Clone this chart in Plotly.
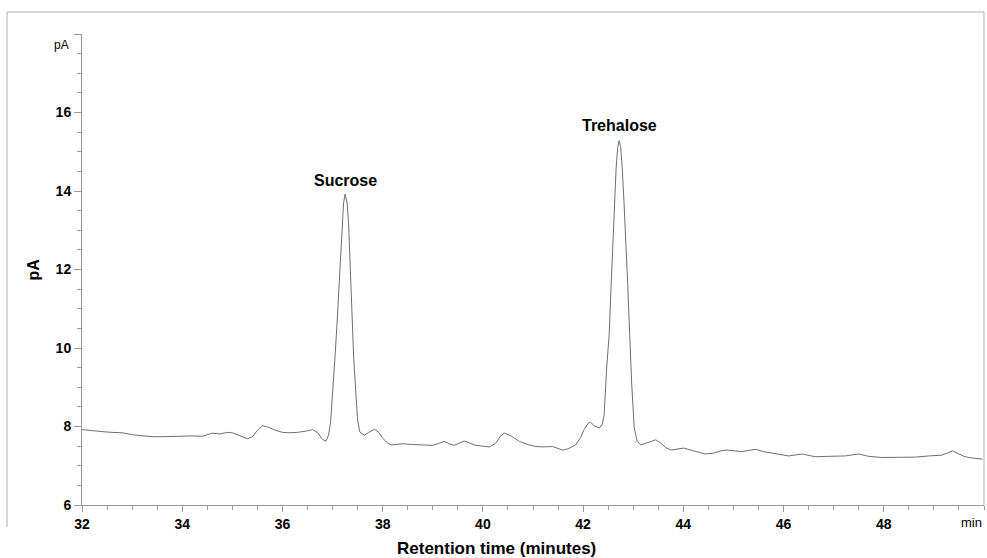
import plotly.graph_objects as go

# Chromatogram trace (retention time in minutes, signal in pA)
time_min = [
    32.00, 32.20, 32.40, 32.60, 32.80, 33.00, 33.20, 33.40, 33.60, 33.80,
    34.00, 34.20, 34.40, 34.50, 34.60, 34.75, 34.90, 35.00, 35.15, 35.30,
    35.40, 35.50, 35.60, 35.70, 35.85, 36.00, 36.15, 36.30, 36.50, 36.60,
    36.70, 36.80, 36.87, 36.92, 36.96, 37.01, 37.05, 37.09, 37.13, 37.17,
    37.20, 37.22, 37.25, 37.29, 37.32, 37.345, 37.365, 37.385, 37.42, 37.46,
    37.50, 37.54, 37.57, 37.64, 37.72, 37.84, 37.92, 38.00, 38.10, 38.17,
    38.30, 38.40, 38.60, 38.80, 39.00, 39.12, 39.23, 39.33, 39.43, 39.53,
    39.63, 39.73, 39.86, 40.00, 40.13, 40.25, 40.35, 40.43, 40.55, 40.73,
    40.90, 41.06, 41.20, 41.39, 41.50, 41.59, 41.70, 41.85, 41.95, 42.02,
    42.10, 42.15, 42.22, 42.32, 42.38, 42.42, 42.47, 42.52, 42.56, 42.60,
    42.635, 42.66, 42.69, 42.72, 42.75, 42.78, 42.815, 42.85, 42.89, 42.93,
    42.97, 43.02, 43.08, 43.15, 43.25, 43.38, 43.45, 43.55, 43.65, 43.75,
    43.90, 44.01, 44.20, 44.44, 44.60, 44.75, 44.87, 45.00, 45.17, 45.30,
    45.44, 45.60, 45.84, 46.10, 46.37, 46.63, 46.90, 47.23, 47.50, 47.70,
    47.96, 48.30, 48.63, 48.90, 49.16, 49.30, 49.37, 49.50, 49.62, 49.80,
    49.97,
]
signal_pA = [
    7.92, 7.89, 7.87, 7.85, 7.84, 7.79, 7.76, 7.74, 7.74, 7.75,
    7.76, 7.76, 7.75, 7.79, 7.83, 7.81, 7.85, 7.84, 7.76, 7.69,
    7.74, 7.90, 8.02, 7.99, 7.91, 7.85, 7.84, 7.85, 7.89, 7.92,
    7.85, 7.67, 7.63, 7.78, 8.10, 8.94, 9.79, 10.64, 11.49, 12.34,
    13.19, 13.70, 13.92, 13.70, 13.19, 12.34, 11.49, 10.64, 9.79, 8.94,
    8.17, 7.88, 7.83, 7.78, 7.85, 7.93, 7.85, 7.70, 7.58, 7.53,
    7.55, 7.56, 7.54, 7.53, 7.52, 7.57, 7.62, 7.56, 7.52, 7.58,
    7.63, 7.58, 7.52, 7.50, 7.48, 7.57, 7.75, 7.83, 7.77, 7.62,
    7.54, 7.49, 7.48, 7.49, 7.44, 7.40, 7.43, 7.53, 7.72, 7.92,
    8.08, 8.11, 8.02, 7.96, 8.05, 8.30, 9.49, 10.34, 11.62, 12.90,
    13.92, 14.61, 15.11, 15.28, 15.11, 14.61, 13.75, 12.90, 11.62, 10.34,
    9.07, 7.97, 7.62, 7.53, 7.57, 7.64, 7.66, 7.58, 7.46, 7.40,
    7.43, 7.45, 7.38, 7.30, 7.32, 7.38, 7.40, 7.39, 7.36, 7.39,
    7.42, 7.36, 7.30, 7.25, 7.30, 7.23, 7.24, 7.25, 7.30, 7.24,
    7.21, 7.22, 7.22, 7.25, 7.27, 7.34, 7.38, 7.30, 7.23, 7.19,
    7.17,
]

# Peak labels
peak_names = ["Sucrose", "Trehalose"]
peak_times = [37.25, 42.72]
peak_heights = [13.92, 15.28]

# Axis ticks
x_ticks = [32, 34, 36, 38, 40, 42, 44, 46, 48]
y_ticks = [6, 8, 10, 12, 14, 16, 18]
y_tick_text = ["6", "8", "10", "12", "14", "16", ""]

FONT = "Liberation Sans, Arial, sans-serif"
AX = "#9a9a9a"

fig = go.Figure()
fig.add_trace(go.Scatter(
    x=time_min, y=signal_pA, mode="lines",
    line=dict(color="#6f6f6f", width=1), showlegend=False,
))

for name, t, h, ys in zip(peak_names, peak_times, peak_heights, [3, 5]):
    fig.add_annotation(x=t, y=h, text=f"<b>{name}</b>", showarrow=False,
                       xanchor="center", yanchor="bottom", yshift=ys,
                       font=dict(family=FONT, size=16, color="black"))

fig.update_xaxes(
    range=[32, 50], showline=True, linecolor=AX, linewidth=1,
    ticks="outside", ticklen=6, tickcolor=AX,
    tickvals=x_ticks, ticktext=[f"<b>{v}</b>" for v in x_ticks],
    tickfont=dict(family=FONT, size=14, color="black"),
    showgrid=False, zeroline=False,
    minor=dict(dtick=0.5, tick0=32, ticks="outside", ticklen=4, tickcolor=AX, showgrid=False),
)
fig.update_yaxes(
    range=[6, 18], showline=True, linecolor=AX, linewidth=1,
    ticks="outside", ticklen=7, tickcolor=AX,
    tickvals=y_ticks, ticktext=[f"<b>{t}</b>" if t else "" for t in y_tick_text],
    tickfont=dict(family=FONT, size=14, color="black"),
    showgrid=False, zeroline=False,
    minor=dict(dtick=0.5, tick0=6, ticks="outside", ticklen=4, tickcolor=AX, showgrid=False),
)

# unit labels at axis ends
fig.add_annotation(x=50, y=0, xref="x", yref="paper", text="min", showarrow=False,
                   xanchor="right", yanchor="top", yshift=-8,
                   font=dict(family=FONT, size=13, color="black"))
fig.add_annotation(x=0, y=18, xref="paper", yref="y", text="pA", showarrow=False,
                   xanchor="right", yanchor="top", xshift=-11, yshift=-2,
                   font=dict(family=FONT, size=12, color="black"))

# axis titles
fig.add_annotation(x=-0.0543, y=0.50, xref="paper", yref="paper", text="<b>pA</b>",
                   showarrow=False, textangle=-90, xanchor="center", yanchor="middle",
                   font=dict(family=FONT, size=16, color="black"))
fig.add_annotation(x=0.46, y=-0.0913, xref="paper", yref="paper",
                   text="<b>Retention time (minutes)</b>", showarrow=False,
                   xanchor="center", yanchor="middle",
                   font=dict(family=FONT, size=17, color="black"))

# outer frame lines
frame = dict(color="#b0b0b0", width=1)
fig.add_shape(type="line", xref="paper", yref="paper", x0=-0.0831, x1=1.0, y0=1.0467, y1=1.0467, line=frame)
fig.add_shape(type="line", xref="paper", yref="paper", x0=-0.0831, x1=-0.0831, y0=1.0467, y1=-0.0467, line=frame)
fig.add_shape(type="line", xref="paper", yref="paper", x0=1.0, x1=1.0, y0=1.0467, y1=0.0, line=frame)

fig.update_layout(
    width=987, height=558, margin=dict(l=82, r=3, t=34, b=53),
    paper_bgcolor="white", plot_bgcolor="white",
    font=dict(family=FONT),
)

fig.write_html("out.html")
